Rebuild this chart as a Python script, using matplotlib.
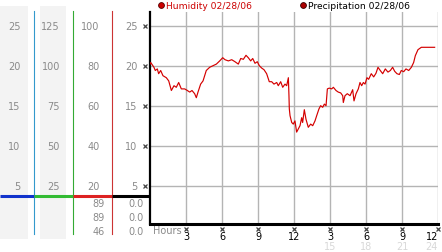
import matplotlib
matplotlib.use("Agg")
import matplotlib.pyplot as plt
from matplotlib import transforms
from matplotlib.patches import Rectangle

# ---------------- data ----------------
hours = [0.0, 0.06, 0.33, 0.44, 0.61, 0.72, 0.89, 1.08, 1.36, 1.56, 1.78, 2.0, 2.19, 2.39,
         2.61, 2.89, 3.11, 3.31, 3.5, 3.72, 3.86, 4.0, 4.22, 4.42, 4.69, 4.97, 5.25, 5.53,
         5.81, 6.06, 6.25, 6.53, 6.81, 7.08, 7.36, 7.56, 7.78, 8.0, 8.19, 8.39, 8.56, 8.75,
         8.94, 9.11, 9.31, 9.5, 9.72, 9.94, 10.14, 10.33, 10.56, 10.69, 10.89, 11.06, 11.25,
         11.39, 11.53, 11.58, 11.61, 11.67, 11.81, 11.94, 12.08, 12.22, 12.36, 12.5, 12.64,
         12.72, 12.86, 13.0, 13.19, 13.39, 13.56, 13.75, 13.89, 14.08, 14.22, 14.39, 14.53,
         14.67, 14.78, 14.94, 15.14, 15.28, 15.5, 15.69, 15.89, 16.06, 16.11, 16.25, 16.44,
         16.67, 16.89, 17.0, 17.17, 17.36, 17.5, 17.64, 17.78, 17.92, 18.08, 18.22, 18.44,
         18.64, 18.83, 19.0, 19.19, 19.39, 19.61, 19.83, 20.03, 20.22, 20.39, 20.58, 20.78,
         20.94, 21.14, 21.33, 21.56, 21.78, 21.97, 22.11, 22.33, 22.61, 23.72]
humidity = [20.2, 20.4, 19.8, 19.4, 19.6, 19.0, 19.4, 18.75, 18.5, 18.1, 16.9, 17.5, 17.3, 17.9,
            17.1, 17.1, 16.9, 16.7, 16.9, 16.5, 16.0, 16.7, 17.7, 18.1, 19.4, 19.8, 20.0, 20.2,
            20.6, 21.0, 20.75, 20.6, 20.75, 20.5, 20.2, 20.9, 20.8, 21.3, 21.0, 20.6, 20.9, 20.3,
            20.5, 20.0, 19.7, 19.5, 19.0, 18.0, 18.0, 17.7, 17.9, 17.5, 18.0, 17.3, 17.7,
            17.5, 18.5, 16.25, 14.6, 13.75, 12.9, 12.7, 13.1, 11.7, 12.1, 12.5, 13.5,
            12.9, 14.5, 13.3, 12.3, 12.7, 12.5, 13.1, 13.75, 14.6, 15.0, 14.8, 15.2,
            15.0, 17.1, 17.2, 17.1, 17.3, 16.9, 16.7, 16.6, 16.25, 15.4, 16.25, 16.5,
            16.25, 17.0, 15.6, 16.5, 17.1, 17.9, 17.5, 17.9, 17.7, 18.5, 18.3, 19.0,
            18.6, 19.05, 19.8, 19.4, 19.0, 19.6, 19.2, 19.4, 19.8, 19.3, 19.0, 18.9,
            19.4, 19.25, 19.6, 19.4, 19.8, 20.4, 21.25, 22.0, 22.3, 22.3]

scale_a = ["25", "20", "15", "10", "5"]
scale_b = ["125", "100", "75", "50", "25"]
scale_c = ["100", "80", "60", "40", "20"]
scale_d = ["25", "20", "15", "10", "5"]
scale_vals = [25, 20, 15, 10, 5]
readings_c = ["89", "89", "46"]
readings_d = ["0.0", "0.0", "0.0"]
xticks = [3, 6, 9, 12, 15, 18, 21, 24]
xtick_labels = ["3", "6", "9", "12", "3", "6", "9", "12"]
extra_ticks = [15, 18, 21, 24]
extra_labels = ["15", "18", "21", "24"]

W, H = 442, 253
fig = plt.figure(figsize=(W / 100, H / 100), dpi=100)
fig.patch.set_facecolor("white")

def fx(px):
    return px / W

def fy(py):
    return 1 - py / H

# overlay in pixel coordinates
ov = fig.add_axes([0, 0, 1, 1], zorder=0)
ov.set_xlim(0, W)
ov.set_ylim(H, 0)
ov.axis("off")

# main axes
top_px, bot_px = 13, 225
left_px, right_px = 150, 438
ax = fig.add_axes([fx(left_px), fy(bot_px), fx(right_px - left_px), (bot_px - top_px) / H], zorder=2)
ax.patch.set_alpha(0)
ppu = 8.0  # pixels per unit
y25 = 26.7
ax.set_ylim(25 - (bot_px - y25) / ppu, 25 + (y25 - top_px) / ppu)
ax.set_xlim(0, 24)

grid_c = "#b4b4b4"
for v in scale_vals:
    ax.axhline(v, color=grid_c, lw=1.0, zorder=1)
for t in xticks:
    ax.axvline(t, color=grid_c, lw=1.0, zorder=1)

ax.plot(hours, humidity, color="#d40000", lw=0.85, zorder=3)

for s in ["top", "right"]:
    ax.spines[s].set_visible(False)
ax.spines["left"].set_linewidth(1.6)
ax.spines["bottom"].set_linewidth(2.2)
ax.spines["left"].set_color("black")
ax.spines["bottom"].set_color("black")
ax.set_yticks([])
ax.set_xticks(xticks)
ax.set_xticklabels(xtick_labels, fontsize=7, color="black")
ax.tick_params(axis="x", length=0, pad=5)
lbls = ax.get_xticklabels()
lbls[-1].set_ha("right")
lbls[-1].set_x(24)

# blended transforms
tr_y = transforms.blended_transform_factory(ov.transData, ax.transData)
tr_x = transforms.blended_transform_factory(ax.transData, ov.transData)

# left panel backgrounds
ov.add_patch(Rectangle((0, 7), 28, 233, color="#f3f3f3", lw=0))
ov.add_patch(Rectangle((40, 7), 26, 233, color="#f3f3f3", lw=0))

# vertical scale lines
ov.plot([33.5, 33.5], [12, 235], color="#3399cc", lw=0.8)
ov.plot([72.5, 72.5], [12, 235], color="#33aa33", lw=0.8)
ov.plot([111.5, 111.5], [12, 235], color="#cc3333", lw=0.8)

# horizontal baseline segments
by = 197
ov.plot([0, 33.5], [by, by], color="#1133cc", lw=2.2, solid_capstyle="butt")
ov.plot([33.5, 72.5], [by, by], color="#33bb33", lw=2.2, solid_capstyle="butt")
ov.plot([72.5, 111.5], [by, by], color="#dd2222", lw=2.2, solid_capstyle="butt")
ov.plot([111.5, 150], [by, by], color="black", lw=2.2, solid_capstyle="butt")

lab_c = "#8a8a8a"
fs = 7
for v, a, b, c, d in zip(scale_vals, scale_a, scale_b, scale_c, scale_d):
    ov.text(20.5, v, a, transform=tr_y, ha="right", va="center", fontsize=fs, color=lab_c)
    ov.text(60, v, b, transform=tr_y, ha="right", va="center", fontsize=fs, color=lab_c)
    ov.text(99.5, v, c, transform=tr_y, ha="right", va="center", fontsize=fs, color=lab_c)
    ov.text(137.5, v, d, transform=tr_y, ha="right", va="center", fontsize=fs, color=lab_c)
    ov.plot([145.3], [v], transform=tr_y, marker="x", ms=2.6, mew=0.9, color="#444444")

for i, (c, d) in enumerate(zip(readings_c, readings_d)):
    yy = 204 + i * 14
    ov.text(105, yy, c, ha="right", va="center", fontsize=fs, color=lab_c)
    ov.text(144, yy, d, ha="right", va="center", fontsize=fs, color=lab_c)

# x-axis extras
for t in xticks:
    ov.plot([t], [229.5], transform=tr_x, marker="x", ms=2.6, mew=0.9, color="#444444")
for t, l in zip(extra_ticks, extra_labels):
    ha = "right" if t == extra_ticks[-1] else "center"
    ov.text(t, 247.5, l, transform=tr_x, ha=ha, va="center", fontsize=fs, color="#d8d8d8")
ov.text(153, 231.5, "Hours", ha="left", va="center", fontsize=fs, color=lab_c)

# legend
ov.plot([161], [6], marker="o", ms=4.2, mfc="#cc0000", mec="#550000", mew=0.6)
ov.text(166, 6.5, "Humidity 02/28/06", ha="left", va="center", fontsize=6.6, color="#cc0000")
ov.plot([303], [6], marker="o", ms=4.2, mfc="#aa0000", mec="#330000", mew=0.6)
ov.text(307.5, 6.5, "Precipitation 02/28/06", ha="left", va="center", fontsize=6.6, color="black")

fig.savefig("out.png", dpi=100, facecolor="white")
